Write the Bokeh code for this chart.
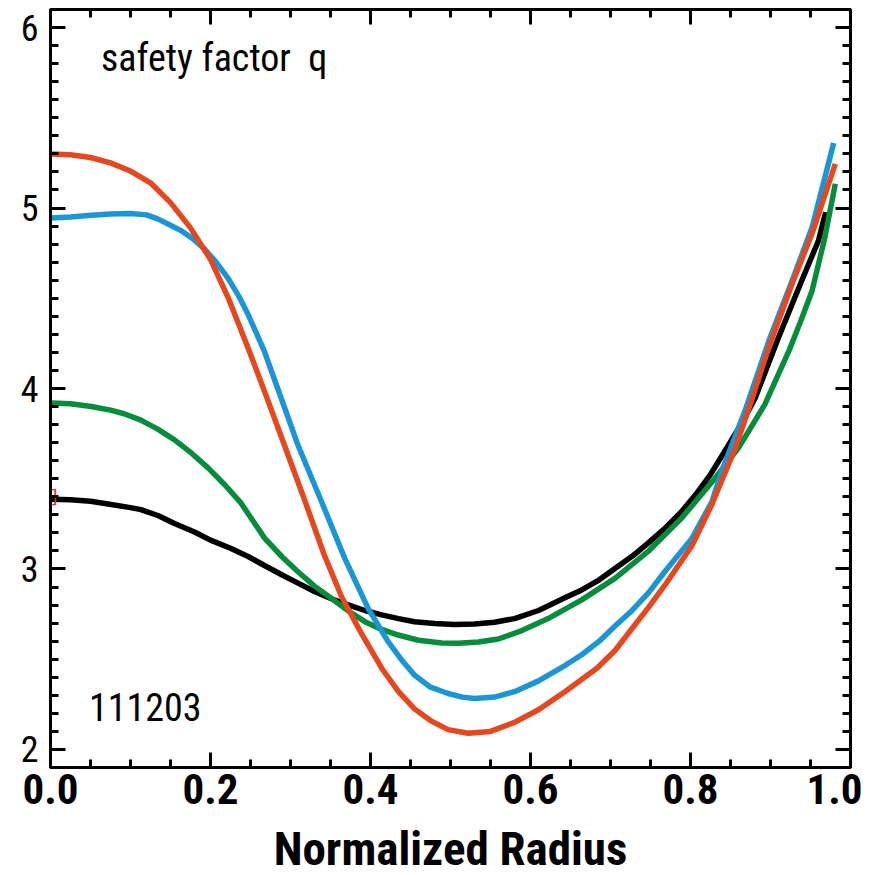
from bokeh.plotting import figure
from bokeh.models import (Range1d, FixedTicker, LinearAxis, PrintfTickFormatter,
                          Label, ColumnDataSource)
from bokeh.core.properties import value
from bokeh.embed import file_html
from bokeh.resources import INLINE

# ---------------- data ----------------
black_x = [0.000, 0.025, 0.050, 0.072, 0.100, 0.113, 0.135, 0.155, 0.180, 0.200,
           0.225, 0.247, 0.268, 0.289, 0.310, 0.330, 0.351, 0.372, 0.393, 0.414,
           0.435, 0.455, 0.480, 0.505, 0.530, 0.555, 0.580, 0.610, 0.643, 0.664,
           0.686, 0.706, 0.727, 0.747, 0.768, 0.789, 0.807, 0.8245, 0.848, 0.865,
           0.881, 0.910, 0.939, 0.960, 0.969]
black_y = [3.386, 3.383, 3.375, 3.360, 3.340, 3.329, 3.295, 3.252, 3.205, 3.160,
           3.115, 3.069, 3.018, 2.968, 2.920, 2.875, 2.835, 2.801, 2.770, 2.746,
           2.725, 2.708, 2.698, 2.693, 2.695, 2.705, 2.725, 2.770, 2.840, 2.884,
           2.940, 3.004, 3.070, 3.143, 3.225, 3.319, 3.415, 3.520, 3.690, 3.815,
           3.949, 4.282, 4.597, 4.820, 4.977]

green_x = [0.000, 0.025, 0.051, 0.075, 0.092, 0.113, 0.134, 0.155, 0.176, 0.197,
           0.2175, 0.238, 0.2676, 0.290, 0.309, 0.330, 0.351, 0.372, 0.393, 0.414,
           0.4345, 0.460, 0.489, 0.510, 0.535, 0.560, 0.590, 0.622, 0.664, 0.706,
           0.747, 0.789, 0.831, 0.860, 0.893, 0.923, 0.9375, 0.952, 0.968, 0.981]
green_y = [3.920, 3.915, 3.900, 3.880, 3.860, 3.825, 3.775, 3.715, 3.643, 3.560,
           3.468, 3.366, 3.171, 3.065, 2.986, 2.905, 2.838, 2.768, 2.708, 2.665,
           2.634, 2.605, 2.590, 2.588, 2.595, 2.612, 2.660, 2.725, 2.829, 2.949,
           3.097, 3.282, 3.504, 3.671, 3.912, 4.208, 4.370, 4.542, 4.838, 5.134]

blue_x = [0.000, 0.025, 0.051, 0.075, 0.100, 0.120, 0.134, 0.150, 0.163, 0.178,
          0.192, 0.207, 0.222, 0.235, 0.247, 0.267, 0.284, 0.309, 0.3386, 0.3677,
          0.397, 0.422, 0.440, 0.455, 0.475, 0.497, 0.515, 0.530, 0.555, 0.580,
          0.610, 0.643, 0.664, 0.686, 0.706, 0.727, 0.748, 0.768, 0.802, 0.827,
          0.839, 0.868, 0.898, 0.927, 0.952, 0.979]
blue_y = [4.945, 4.950, 4.960, 4.967, 4.970, 4.962, 4.940, 4.905, 4.875, 4.830,
          4.775, 4.700, 4.610, 4.515, 4.410, 4.210, 4.000, 3.690, 3.375, 3.060,
          2.782, 2.597, 2.490, 2.412, 2.345, 2.310, 2.290, 2.282, 2.290, 2.320,
          2.380, 2.465, 2.525, 2.600, 2.685, 2.770, 2.870, 2.986, 3.171, 3.375,
          3.542, 3.875, 4.264, 4.597, 4.893, 5.360]

red_x = [0.000, 0.025, 0.050, 0.075, 0.100, 0.125, 0.150, 0.175, 0.200, 0.222,
         0.247, 0.270, 0.290, 0.317, 0.342, 0.364, 0.389, 0.414, 0.435, 0.455,
         0.475, 0.497, 0.522, 0.550, 0.580, 0.610, 0.643, 0.683, 0.706, 0.727,
         0.748, 0.768, 0.802, 0.827, 0.856, 0.873, 0.898, 0.927, 0.952, 0.981]
red_y = [5.300, 5.295, 5.280, 5.250, 5.205, 5.140, 5.030, 4.890, 4.715, 4.504,
         4.225, 3.955, 3.715, 3.390, 3.080, 2.845, 2.640, 2.450, 2.320, 2.225,
         2.160, 2.110, 2.090, 2.100, 2.150, 2.220, 2.320, 2.450, 2.550, 2.670,
         2.790, 2.910, 3.130, 3.360, 3.670, 3.890, 4.230, 4.580, 4.860, 5.245]

marker_x = [0.0]
marker_y = [3.40]

x_major = [0.0, 0.2, 0.4, 0.6, 0.8, 1.0]
x_minor = [round(0.05 * i, 2) for i in range(0, 21)]
y_major = [2, 3, 4, 5, 6]
y_minor = [round(1.9 + 0.1 * i, 1) for i in range(0, 43)]

title_text = "safety factor\u00a0 q"
shot_text = "111203"
x_label = "Normalized Radius"

FONT = "Roboto Condensed, DejaVu Sans Condensed, sans-serif"

# ---------------- figure ----------------
p = figure(frame_width=800, frame_height=758,
           x_range=Range1d(0.0, 1.0), y_range=Range1d(1.9, 6.1),
           output_backend="svg", toolbar_location=None,
           min_border_left=50, min_border_right=12, min_border_top=9,
           min_border_bottom=90, x_axis_location=None, y_axis_location=None)
p.grid.visible = False
p.outline_line_color = "black"
p.outline_line_width = 3
p.background_fill_color = "white"
p.border_fill_color = "white"

xt = FixedTicker(ticks=x_major, minor_ticks=x_minor)
yt = FixedTicker(ticks=y_major, minor_ticks=y_minor)


def style(ax, show_labels):
    ax.axis_line_width = 3
    ax.major_tick_line_width = 3
    ax.minor_tick_line_width = 3
    ax.major_tick_in = 15
    ax.major_tick_out = 0
    ax.minor_tick_in = 8
    ax.minor_tick_out = 0
    if not show_labels:
        ax.major_label_text_font_size = "0px"
        ax.major_label_standoff = 0
        ax.major_label_text_alpha = 0


bottom = LinearAxis(ticker=xt, formatter=PrintfTickFormatter(format="%.1f"))
style(bottom, True)
bottom.major_label_text_font = FONT
bottom.major_label_text_font_style = "bold"
bottom.major_label_text_font_size = "43px"
bottom.major_label_text_color = "black"
bottom.major_label_standoff = 6
bottom.axis_label = x_label
bottom.axis_label_text_font = FONT
bottom.axis_label_text_font_style = "bold"
bottom.axis_label_text_font_size = "47px"
bottom.axis_label_text_color = "black"
bottom.axis_label_standoff = 14
p.add_layout(bottom, "below")

left = LinearAxis(ticker=yt, formatter=PrintfTickFormatter(format="%d"))
style(left, True)
left.major_label_text_font = FONT
left.major_label_text_font_size = "36px"
left.major_label_text_color = "black"
left.major_label_standoff = 12
p.add_layout(left, "left")

top = LinearAxis(ticker=xt)
style(top, False)
p.add_layout(top, "above")

right = LinearAxis(ticker=yt)
style(right, False)
p.add_layout(right, "right")

# ---------------- curves ----------------
for xs, ys, col in [(black_x, black_y, "black"),
                    (green_x, green_y, "#078C3C"),
                    (blue_x, blue_y, "#1B95D5"),
                    (red_x, red_y, "#E5471F")]:
    p.line(xs, ys, line_color=col, line_width=5.5, line_join="round")

src = ColumnDataSource(dict(x=marker_x, y=marker_y, t=["]"]))
p.text(x="x", y="y", text="t", source=src, text_color="#E02828",
       text_font=value("DejaVu Sans"), text_font_size="18px",
       text_baseline="middle", text_align="left", x_offset=0)

p.add_layout(Label(x=0.063, y=5.83, text=title_text, text_font=FONT,
                   text_font_size="38px", text_color="black",
                   text_baseline="alphabetic"))
p.add_layout(Label(x=0.048, y=2.235, text=shot_text, text_font=FONT,
                   text_font_size="38px", text_color="black",
                   text_baseline="alphabetic"))

open("out.html", "w").write(file_html(p, INLINE))
